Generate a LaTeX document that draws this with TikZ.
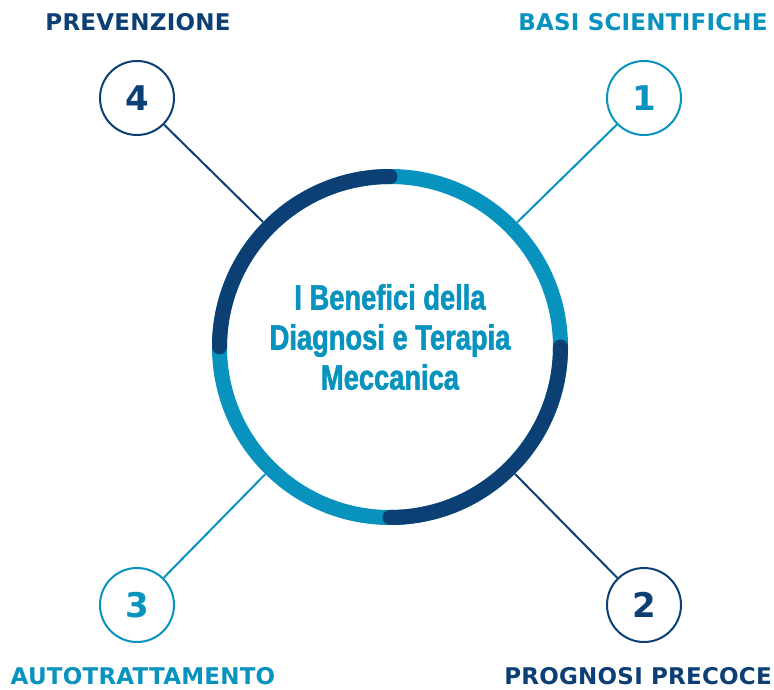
\documentclass[tikz,border=0pt]{standalone}
\usepackage{fontspec}
\setmainfont{DejaVu Sans}
\newfontfamily\labelfont{DejaVu Sans Bold}[LetterSpace=1]
\newfontfamily\titlefont{Liberation Sans Bold}[FakeStretch=0.78, FakeBold=1.6]
\usetikzlibrary{calc}
\definecolor{navy}{HTML}{0C3F73}
\definecolor{sky}{HTML}{0893BF}
\begin{document}
\begin{tikzpicture}[x=1pt,y=1pt,
  heading/.style={font=\labelfont\fontsize{23}{23}\selectfont, inner sep=0pt, anchor=center},
  badge/.style={circle, draw, line width=2pt, minimum size=74pt, inner sep=0pt,
    font=\labelfont\fontsize{34}{34}\selectfont},
  link/.style={line width=2pt},
  band/.style={line width=15pt}]
  \useasboundingbox[fill=white] (0,0) rectangle (774,689);

  % central ring
  \coordinate (C) at (390,342);
  \node[circle, minimum size=356pt, inner sep=0pt] (hub) at (C) {};
  \draw[band, sky] (C) circle (170.5);
  \draw[band, navy, line cap=round] ($(C)+(90:170.5)$) arc (90:180:170.5);
  \draw[band, navy, line cap=round] ($(C)+(270:170.5)$) arc (270:360:170.5);

  % title
  \node[font=\titlefont\fontsize{35}{40}\selectfont, text=sky, align=center, inner sep=0pt]
    (title) at (390,352) {I Benefici della\\Diagnosi e Terapia\\Meccanica};

  % numbered badges
  \node[badge, draw=sky, text=sky] (n1) at (644,591) {1};
  \node[badge, draw=navy, text=navy] (n2) at (644,84) {2};
  \node[badge, draw=sky, text=sky] (n3) at (137,84) {3};
  \node[badge, draw=navy, text=navy] (n4) at (137,591) {4};

  % connectors
  \draw[link, sky] (n1) -- (hub);
  \draw[link, navy] (n2) -- (hub);
  \draw[link, sky] (n3) -- (hub);
  \draw[link, navy] (n4) -- (hub);

  % headings
  \node[heading, text=navy] (h4) at (138,667) {PREVENZIONE};
  \node[heading, text=sky] (h1) at (643,667) {BASI SCIENTIFICHE};
  \node[heading, text=sky] (h3) at (143,13) {AUTOTRATTAMENTO};
  \node[heading, text=navy] (h2) at (638,13) {PROGNOSI PRECOCE};
\end{tikzpicture}
\end{document}
